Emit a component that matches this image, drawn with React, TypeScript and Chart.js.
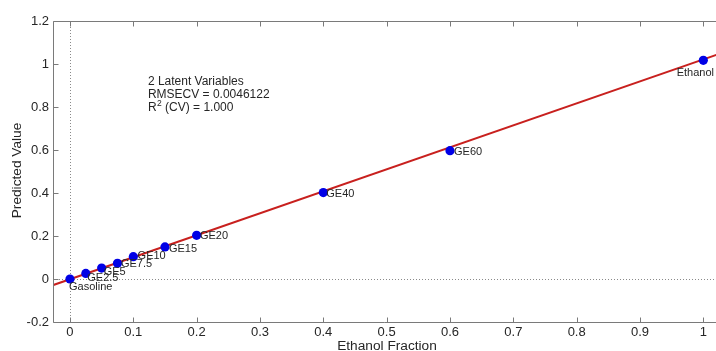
import React, { useEffect, useRef } from "react";
import { Chart, registerables } from "chart.js";

Chart.register(...registerables);

// ---------- data ----------
const sampleNames = ["Gasoline", "GE2.5", "GE5", "GE7.5", "GE10", "GE15", "GE20", "GE40", "GE60", "Ethanol"];
const ethanolFraction = [0, 0.025, 0.05, 0.075, 0.1, 0.15, 0.2, 0.4, 0.6, 1.0];
const predictedValue = [0, 0.026, 0.051, 0.073, 0.104, 0.149, 0.203, 0.402, 0.597, 1.017];
const fitLineX = [-0.03, 1.03];
const fitLineY = [-0.032, 1.052];
const xTickValues = [0, 0.1, 0.2, 0.3, 0.4, 0.5, 0.6, 0.7, 0.8, 0.9, 1];
const yTickValues = [-0.2, 0, 0.2, 0.4, 0.6, 0.8, 1, 1.2];
const annotationLines = ["2 Latent Variables", "RMSECV = 0.0046122"];
const r2Parts = ["R", "2", " (CV) = 1.000"];
const xTitle = "Ethanol Fraction";
const yTitle = "Predicted Value";

// ---------- layout (pixel offsets of the point labels) ----------
const labelOffsets: [number, number, CanvasTextAlign][] = [
  [-1, 8, "left"],
  [1.5, 4.5, "left"],
  [2, 3.5, "left"],
  [3.5, 0.8, "left"],
  [4.3, -1, "left"],
  [4, 1.7, "left"],
  [3.3, 1, "left"],
  [3, 1, "left"],
  [4, 1.2, "left"],
  [-8, 13, "center"],
];

const FONT = "'Liberation Sans', Arial, Helvetica, sans-serif";
const AXIS_COLOR = "#7a7a7a";
const TEXT_COLOR = "#262626";

const decorPlugin = {
  id: "decor",
  beforeDatasetsDraw(chart: any) {
    const { ctx, chartArea: a, scales } = chart;
    const x = scales.x, y = scales.y;
    ctx.save();
    ctx.strokeStyle = "#8a8a8a";
    ctx.lineWidth = 1;
    ctx.setLineDash([1, 2]);
    const x0 = Math.round(x.getPixelForValue(0)) + 0.5;
    ctx.beginPath();
    ctx.moveTo(x0, a.top);
    ctx.lineTo(x0, a.bottom);
    ctx.stroke();
    const y0 = Math.round(y.getPixelForValue(0)) + 0.5;
    ctx.beginPath();
    ctx.moveTo(a.left, y0);
    ctx.lineTo(a.right, y0);
    ctx.stroke();
    ctx.restore();
  },
  afterDatasetsDraw(chart: any) {
    const { ctx, chartArea: a, scales } = chart;
    const x = scales.x, y = scales.y;
    ctx.save();
    // frame
    ctx.strokeStyle = AXIS_COLOR;
    ctx.lineWidth = 1;
    ctx.setLineDash([]);
    const L = Math.round(a.left) + 0.5;
    const T = Math.round(a.top) + 0.5;
    const B = Math.round(a.bottom) + 0.5;
    ctx.beginPath();
    ctx.moveTo(a.right, T);
    ctx.lineTo(L, T);
    ctx.lineTo(L, B);
    ctx.lineTo(a.right, B);
    ctx.stroke();
    // inward ticks
    const tl = 5;
    ctx.beginPath();
    xTickValues.forEach((v) => {
      const px = Math.round(x.getPixelForValue(v)) + 0.5;
      ctx.moveTo(px, T);
      ctx.lineTo(px, T + tl);
      ctx.moveTo(px, B);
      ctx.lineTo(px, B - tl);
    });
    yTickValues.forEach((v) => {
      const py = Math.round(y.getPixelForValue(v)) + 0.5;
      ctx.moveTo(L, py);
      ctx.lineTo(L + tl, py);
    });
    ctx.stroke();

    // point labels
    ctx.fillStyle = TEXT_COLOR;
    ctx.font = `11px ${FONT}`;
    ctx.textBaseline = "middle";
    sampleNames.forEach((name, i) => {
      const px = x.getPixelForValue(ethanolFraction[i]);
      const py = y.getPixelForValue(predictedValue[i]);
      const [dx, dy, align] = labelOffsets[i];
      ctx.textAlign = align;
      ctx.fillText(name, px + dx, py + dy);
    });

    // annotation
    ctx.font = `12px ${FONT}`;
    ctx.textAlign = "left";
    const ax = x.getPixelForValue(0.123);
    const ay = y.getPixelForValue(0.919);
    const lh = 13.2;
    annotationLines.forEach((t, i) => ctx.fillText(t, ax, ay + i * lh));
    const y3 = ay + 2 * lh;
    ctx.fillText(r2Parts[0], ax, y3);
    const rw = ctx.measureText(r2Parts[0]).width;
    ctx.font = `8.5px ${FONT}`;
    ctx.fillText(r2Parts[1], ax + rw + 0.5, y3 - 4);
    const sw = ctx.measureText(r2Parts[1]).width;
    ctx.font = `12px ${FONT}`;
    ctx.fillText(r2Parts[2], ax + rw + sw + 0.5, y3);
    ctx.restore();
  },
  afterDraw(chart: any) {
    const { ctx, chartArea: a } = chart;
    ctx.save();
    ctx.fillStyle = TEXT_COLOR;
    ctx.font = `13.7px ${FONT}`;
    ctx.textAlign = "center";
    ctx.textBaseline = "alphabetic";
    ctx.fillText(xTitle, 387, 350);
    ctx.translate(17, (a.top + a.bottom) / 2 - 1);
    ctx.rotate(-Math.PI / 2);
    ctx.textBaseline = "middle";
    ctx.fillText(yTitle, 0, 0);
    ctx.restore();
  },
};

export default function App() {
  const ref = useRef<HTMLCanvasElement | null>(null);
  useEffect(() => {
    document.body.style.margin = "0";
    document.body.style.overflow = "hidden";
    const canvas = ref.current;
    if (!canvas) return;
    const chart = new Chart(canvas, {
      type: "scatter",
      data: {
        datasets: [
          {
            label: "Samples",
            data: ethanolFraction.map((v, i) => ({ x: v, y: predictedValue[i] })),
            backgroundColor: "#0000e6",
            borderColor: "#0000e6",
            pointRadius: 4.6,
            pointBorderWidth: 0,
            showLine: false,
            order: 0,
          },
          {
            label: "Fit",
            data: fitLineX.map((v, i) => ({ x: v, y: fitLineY[i] })),
            borderColor: "#c8201e",
            borderWidth: 2,
            pointRadius: 0,
            showLine: true,
            order: 1,
          },
        ],
      },
      options: {
        responsive: false,
        animation: false,
        events: [],
        layout: { autoPadding: false, padding: { top: 21, right: 0, left: 0, bottom: 0 } },
        plugins: { legend: { display: false }, tooltip: { enabled: false } },
        scales: {
          x: {
            type: "linear",
            min: -0.0268,
            max: 1.02,
            grid: { display: false, drawTicks: false },
            border: { display: false },
            afterBuildTicks: (s: any) => {
              s.ticks = xTickValues.map((v) => ({ value: v }));
            },
            afterFit: (s: any) => {
              s.height = 29;
              s.paddingLeft = 0;
              s.paddingRight = 0;
            },
            ticks: {
              padding: 3,
              color: TEXT_COLOR,
              font: { family: FONT, size: 13 },
              maxRotation: 0,
              autoSkip: false,
              callback: (v: any) => String(Math.round(Number(v) * 10) / 10),
            },
          },
          y: {
            type: "linear",
            min: -0.2,
            max: 1.2,
            grid: { display: false, drawTicks: false },
            border: { display: false },
            afterBuildTicks: (s: any) => {
              s.ticks = yTickValues.map((v) => ({ value: v }));
            },
            afterFit: (s: any) => {
              s.width = 53;
              s.paddingTop = 0;
              s.paddingBottom = 0;
            },
            ticks: {
              padding: 4,
              color: TEXT_COLOR,
              font: { family: FONT, size: 13 },
              autoSkip: false,
              callback: (v: any) => String(Math.round(Number(v) * 10) / 10),
            },
          },
        },
      },
      plugins: [decorPlugin],
    } as any);
    return () => chart.destroy();
  }, []);
  return (
    <div style={{ position: "fixed", left: 0, top: 0, width: 716, height: 351, background: "#fff" }}>
      <canvas ref={ref} width={716} height={351} style={{ width: 716, height: 351, display: "block" }} />
    </div>
  );
}
